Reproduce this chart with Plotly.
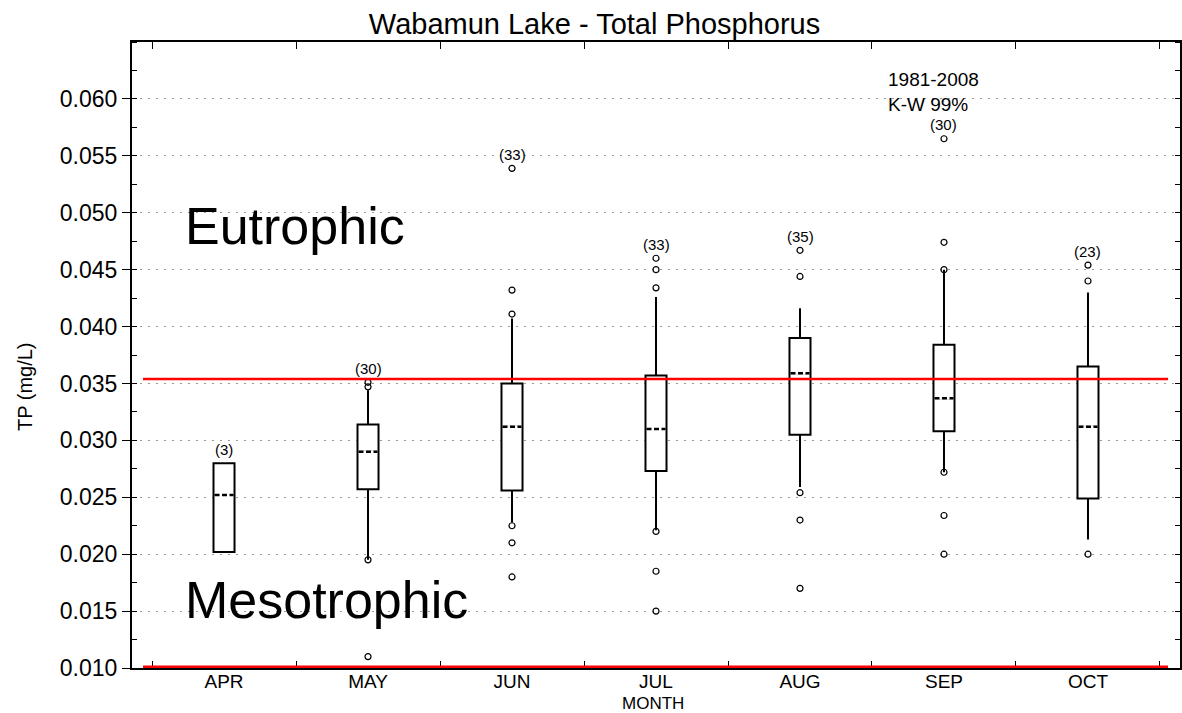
import plotly.graph_objects as go

# Monthly total phosphorus summary, Wabamun Lake 1981-2008
months = ["APR", "MAY", "JUN", "JUL", "AUG", "SEP", "OCT"]
counts = [3, 30, 33, 33, 35, 30, 23]
q1 = [0.0202, 0.0257, 0.0256, 0.0273, 0.0305, 0.0308, 0.0249]
median = [0.0252, 0.0290, 0.0312, 0.0310, 0.0359, 0.0337, 0.0312]
q3 = [0.0280, 0.0314, 0.0350, 0.0357, 0.0390, 0.0384, 0.0365]
whisker_low = [0.0202, 0.0195, 0.0228, 0.0221, 0.0259, 0.0272, 0.0213]
whisker_high = [0.0280, 0.0344, 0.0407, 0.0426, 0.0416, 0.0450, 0.0430]

# Individual values beyond the whiskers
outlier_month = ["MAY", "MAY", "MAY", "MAY",
                 "JUN", "JUN", "JUN", "JUN", "JUN", "JUN",
                 "JUL", "JUL", "JUL", "JUL", "JUL", "JUL",
                 "AUG", "AUG", "AUG", "AUG", "AUG",
                 "SEP", "SEP", "SEP", "SEP", "SEP", "SEP",
                 "OCT", "OCT", "OCT"]
outlier_value = [0.0351, 0.0347, 0.0195, 0.0110,
                 0.0539, 0.0432, 0.0411, 0.0225, 0.0210, 0.0180,
                 0.0460, 0.0450, 0.0434, 0.0220, 0.0185, 0.0150,
                 0.0467, 0.0444, 0.0254, 0.0230, 0.0170,
                 0.0565, 0.0474, 0.0450, 0.0272, 0.0234, 0.0200,
                 0.0454, 0.0440, 0.0200]

# Trophic state boundaries (mg/L)
eutrophic_limit = 0.0354
mesotrophic_limit = 0.0101

y_ticks = [0.010, 0.015, 0.020, 0.025, 0.030, 0.035, 0.040, 0.045, 0.050, 0.055, 0.060]

FONT = "Liberation Sans, Arial, sans-serif"
BOX_WIDTH = 0.146

fig = go.Figure()

fig.add_trace(go.Box(
    x=months, q1=q1, median=median, q3=q3,
    lowerfence=whisker_low, upperfence=whisker_high,
    width=BOX_WIDTH, whiskerwidth=0,
    fillcolor="white", line=dict(color="black", width=2),
    boxpoints=False, showlegend=False, hoverinfo="skip",
))

fig.add_trace(go.Scatter(
    x=outlier_month, y=outlier_value, mode="markers",
    marker=dict(symbol="circle-open", size=6, color="black", line=dict(width=1.2)),
    showlegend=False, hoverinfo="skip",
))

# Dashed medians drawn over the boxes
half = BOX_WIDTH / 2 - 0.007
for i, m in enumerate(median):
    fig.add_shape(type="line", xref="x", yref="y", x0=i - half, x1=i + half,
                  y0=m, y1=m, line=dict(color="white", width=2.5))
    fig.add_shape(type="line", xref="x", yref="y", x0=i - half, x1=i + half,
                  y0=m, y1=m, line=dict(color="black", width=2.5, dash="5px,2.5px"))

# Trophic boundary lines
for level in (eutrophic_limit, mesotrophic_limit):
    fig.add_shape(type="line", xref="x", yref="y", x0=-0.5625, x1=6.556,
                  y0=level, y1=level, line=dict(color="#ff0000", width=2.5))

# Sample counts above each month
for i, n in enumerate(counts):
    top = max([whisker_high[i]] + [v for mo, v in zip(outlier_month, outlier_value) if mo == months[i]])
    fig.add_annotation(x=i, y=top, text=f"({n})", showarrow=False, yanchor="middle",
                       yshift=14, font=dict(family=FONT, size=15, color="black"))

fig.add_annotation(x=-0.285, y=0.0488, text="Eutrophic", showarrow=False,
                   xanchor="left", yanchor="middle",
                   font=dict(family=FONT, size=52, color="black"))
fig.add_annotation(x=-0.285, y=0.0160, text="Mesotrophic", showarrow=False,
                   xanchor="left", yanchor="middle",
                   font=dict(family=FONT, size=52, color="black"))
fig.add_annotation(x=4.93, y=0.06065, text="1981-2008<br>K-W 99%", showarrow=False,
                   xanchor="center", yanchor="middle", align="left",
                   font=dict(family=FONT, size=19, color="black"))

# Axis titles
fig.add_annotation(xref="paper", yref="paper", x=-0.102, y=0.449, text="TP (mg/L)",
                   textangle=-90, showarrow=False, xanchor="center", yanchor="middle",
                   font=dict(family=FONT, size=20, color="black"))
fig.add_annotation(xref="paper", yref="paper", x=0.497, y=-0.0575, text="MONTH",
                   showarrow=False, xanchor="center", yanchor="middle",
                   font=dict(family=FONT, size=17, color="black"))

fig.update_layout(
    width=1182, height=713,
    margin=dict(l=132, r=2, t=42, b=45),
    paper_bgcolor="white", plot_bgcolor="white",
    title=dict(text="Wabamun Lake - Total Phosphorus", x=0.503, xref="container",
               xanchor="center", y=0.966, yref="container", yanchor="middle",
               font=dict(family=FONT, size=29, color="black")),
    font=dict(family=FONT, color="black"),
    xaxis=dict(
        type="category", categoryorder="array", categoryarray=months,
        range=[-0.639, 6.639], tickson="boundaries",
        ticks="inside", ticklen=7, tickwidth=1, tickcolor="black",
        showline=True, linecolor="black", linewidth=2, mirror="allticks",
        showgrid=False, zeroline=False, automargin=False,
        ticklabelstandoff=-5,
        tickfont=dict(family=FONT, size=19, color="black"),
    ),
    yaxis=dict(
        range=[0.010, 0.065], tickvals=y_ticks, tickformat=".3f",
        ticks="outside", ticklen=8, tickwidth=1, tickcolor="black",
        showline=True, linecolor="black", linewidth=2, mirror="allticks",
        showgrid=True, gridcolor="#9a9a9a", gridwidth=1, griddash="2px,6px",
        zeroline=False, automargin=False,
        minor=dict(dtick=0.0025, ticks="inside", ticklen=5, tickcolor="black", showgrid=False),
        tickfont=dict(family=FONT, size=23, color="black"),
    ),
)

fig.write_html("out.html")
